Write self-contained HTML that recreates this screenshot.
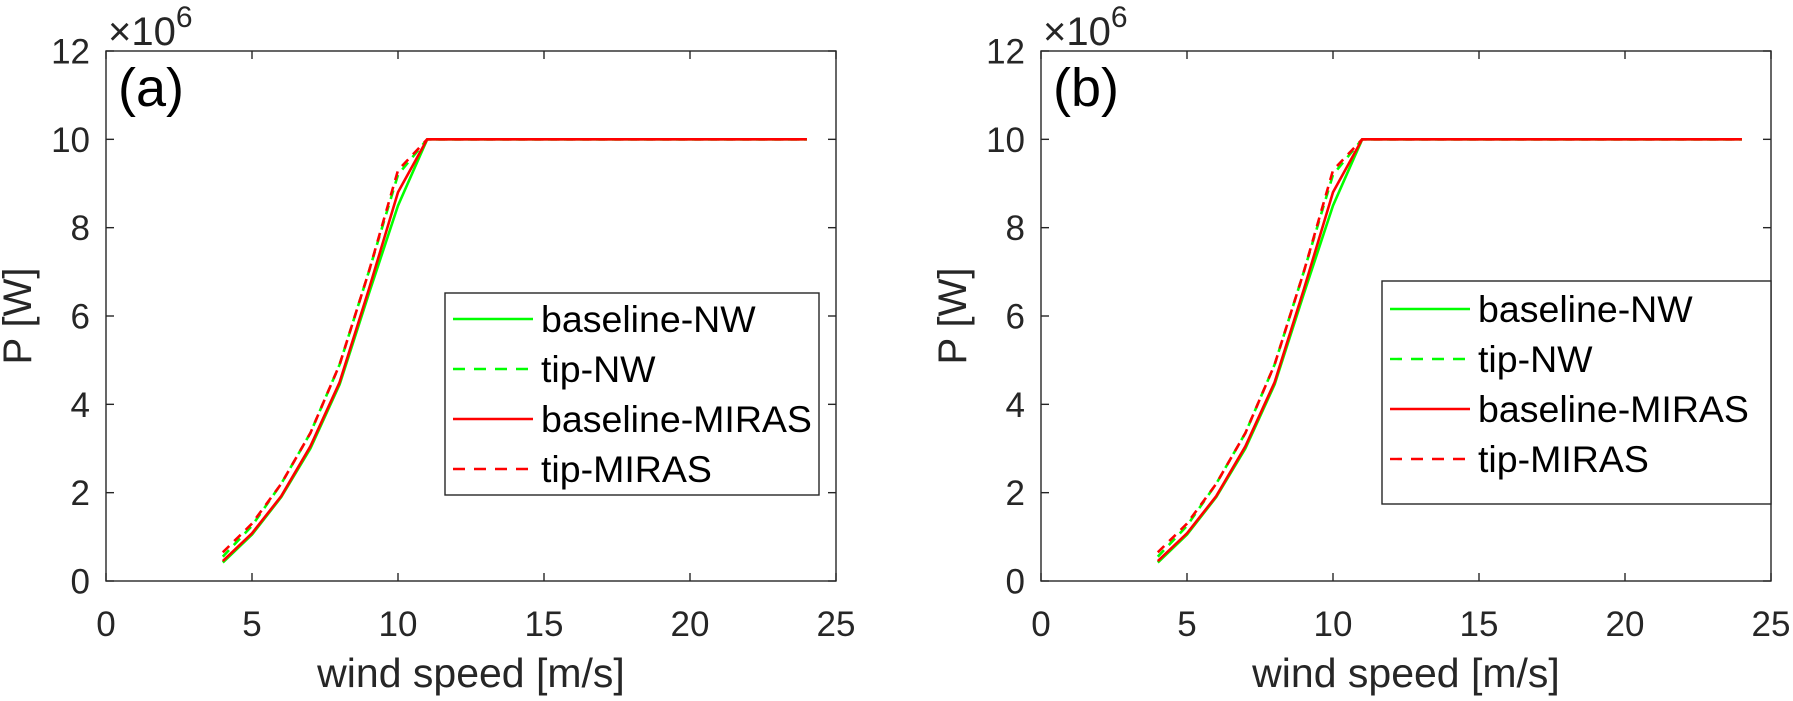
<!DOCTYPE html>
<html><head><meta charset="utf-8"><style>
body{margin:0;background:#fff;}
svg text{font-family:"Liberation Sans",Arial,sans-serif;fill:#262626;}
</style></head><body>
<svg id="fig" width="1793" height="696" xmlns="http://www.w3.org/2000/svg"></svg>
<script>
const windSpeeds = [4,5,6,7,8,9,10,11,12,13,14,15,16,17,18,19,20,21,22,23,24];
const baselineNW_a = [0.42,1.05,1.9,3.0,4.45,6.5,8.5,10,10,10,10,10,10,10,10,10,10,10,10,10,10];
const tipNW_a = [0.55,1.25,2.2,3.35,4.9,7.0,9.2,10,10,10,10,10,10,10,10,10,10,10,10,10,10];
const baselineMIRAS_a = [0.45,1.08,1.92,3.05,4.5,6.6,8.8,10,10,10,10,10,10,10,10,10,10,10,10,10,10];
const tipMIRAS_a = [0.65,1.3,2.2,3.35,4.9,7.0,9.3,10,10,10,10,10,10,10,10,10,10,10,10,10,10];
const baselineNW_b = [0.42,1.05,1.9,3.0,4.45,6.5,8.5,10,10,10,10,10,10,10,10,10,10,10,10,10,10];
const tipNW_b = [0.55,1.25,2.2,3.35,4.9,7.0,9.2,10,10,10,10,10,10,10,10,10,10,10,10,10,10];
const baselineMIRAS_b = [0.45,1.08,1.92,3.05,4.5,6.6,8.8,10,10,10,10,10,10,10,10,10,10,10,10,10,10];
const tipMIRAS_b = [0.65,1.3,2.2,3.35,4.9,7.0,9.3,10,10,10,10,10,10,10,10,10,10,10,10,10,10];
const xTicks = [0,5,10,15,20,25];
const yTicks = [0,2,4,6,8,10,12];
const seriesNames = ["baseline-NW","tip-NW","baseline-MIRAS","tip-MIRAS"];

const NS="http://www.w3.org/2000/svg";
const svg=document.getElementById('fig');
function mk(tag,attrs,parent){const e=document.createElementNS(NS,tag);for(const k in attrs)e.setAttribute(k,attrs[k]);(parent||svg).appendChild(e);return e;}

function panel(cfg){
  const g=mk('g',{});
  
  
  const L=cfg.left,R=cfg.left+730,T=51,B=581;
  const sx=v=>L+(v-0)/25*(R-L);
  const sy=v=>B-(v-0)/12*(B-T);
  const series=[
    {d:cfg.s[0],c:'#00ff00',dash:null,n:seriesNames[0]},
    {d:cfg.s[1],c:'#00ff00',dash:'9,7',n:seriesNames[1]},
    {d:cfg.s[2],c:'#ff0000',dash:null,n:seriesNames[2]},
    {d:cfg.s[3],c:'#ff0000',dash:'9,7',n:seriesNames[3]}];
  series.forEach(s=>{
    const pts=windSpeeds.map((x,i)=>sx(x).toFixed(1)+','+sy(s.d[i]).toFixed(1)).join(' ');
    const p=mk('polyline',{points:pts,fill:'none',stroke:s.c,'stroke-width':2.6,'stroke-linejoin':'round'},g);
    if(s.dash)p.setAttribute('stroke-dasharray',s.dash);
    
    
  });
  const ax=mk('rect',{x:L,y:T,width:R-L,height:B-T,fill:'none',stroke:'#262626','stroke-width':1.4},g);
  
  
  xTicks.forEach(t=>{
    const x=sx(t);
    mk('line',{x1:x,y1:B,x2:x,y2:B-8,stroke:'#262626','stroke-width':1.4},g);
    mk('line',{x1:x,y1:T,x2:x,y2:T+8,stroke:'#262626','stroke-width':1.4},g);
    const tx=mk('text',{x:x,y:636,'font-size':35,'text-anchor':'middle'},g);
    tx.textContent=t;
    
    
  });
  yTicks.forEach(t=>{
    const y=sy(t);
    mk('line',{x1:L,y1:y,x2:L+8,y2:y,stroke:'#262626','stroke-width':1.4},g);
    mk('line',{x1:R,y1:y,x2:R-8,y2:y,stroke:'#262626','stroke-width':1.4},g);
    const tx=mk('text',{x:L-16,y:y+12.5,'font-size':35,'text-anchor':'end'},g);
    tx.textContent=t;
    
    
  });
  const ex=mk('text',{x:L+2,y:45,'font-size':40},g);
  ex.innerHTML='×10<tspan font-size="30" dy="-18">6</tspan>';
  
  
  const pl=mk('text',{x:L+12,y:106,'font-size':54,style:'fill:#000'},g);
  pl.textContent='('+cfg.id+')';
  
  
  const xl=mk('text',{x:(L+R)/2,y:687,'font-size':41,'text-anchor':'middle'},g);
  xl.textContent='wind speed [m/s]';
  
  
  const yl=mk('text',{x:0,y:0,'font-size':40,'text-anchor':'middle',transform:'translate('+(L-75)+','+((T+B)/2)+') rotate(-90)'},g);
  yl.textContent='P [W]';
  
  
  const lg=mk('g',{},g);
  
  
  mk('rect',{x:cfg.lx,y:cfg.ly,width:cfg.lw,height:cfg.lh,fill:'#fff',stroke:'#262626','stroke-width':1.4},lg);
  series.forEach((s,i)=>{
    const y=cfg.ly+cfg.r0+i*cfg.dr;
    const ln=mk('line',{x1:cfg.lx+8,y1:y,x2:cfg.lx+88,y2:y,stroke:s.c,'stroke-width':2.4},lg);
    if(s.dash)ln.setAttribute('stroke-dasharray','12,9');
    const tx=mk('text',{x:cfg.lx+96,y:y+13,'font-size':37.5,style:'fill:#000'},lg);
    tx.textContent=s.n;
    
    
  });
}
panel({id:'a',left:106,s:[baselineNW_a,tipNW_a,baselineMIRAS_a,tipMIRAS_a],lx:445,ly:293,lw:374,lh:202,r0:26,dr:50});
panel({id:'b',left:1041,s:[baselineNW_b,tipNW_b,baselineMIRAS_b,tipMIRAS_b],lx:1382,ly:281,lw:389,lh:223,r0:28,dr:50});
</script>
</body></html>
